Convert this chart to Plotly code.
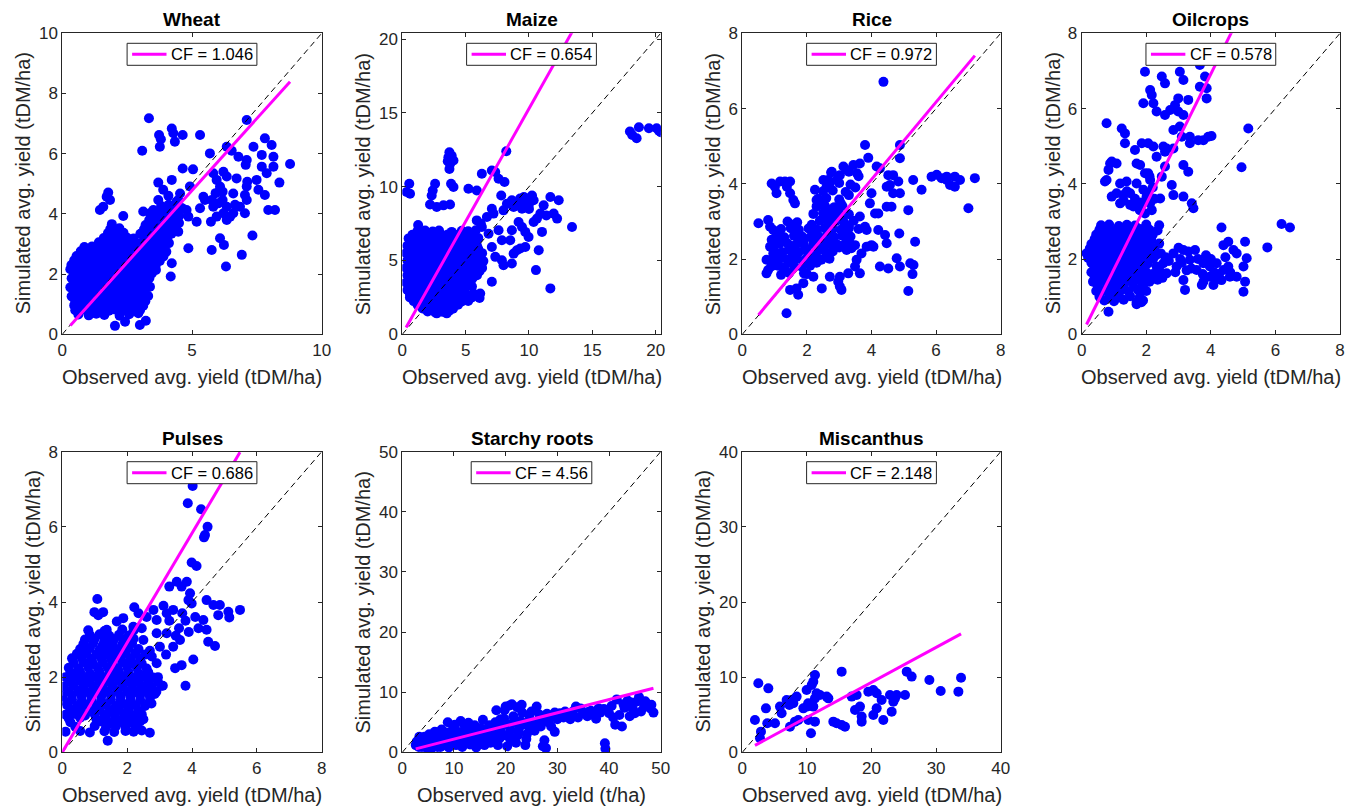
import plotly.graph_objects as go

# ---------------- data (observed, simulated) ----------------
crops = ["Wheat", "Maize", "Rice", "Oilcrops", "Pulses", "Starchy roots", "Miscanthus"]
cf_values = [1.046, 0.654, 0.972, 0.578, 0.686, 4.56, 2.148]
cf_labels = ["1.046", "0.654", "0.972", "0.578", "0.686", "4.56", "2.148"]
axis_limits = [10, 20.4, 8, 8, 8, 50, 40]
x_ticks = [[0, 5, 10], [0, 5, 10, 15, 20], [0, 2, 4, 6, 8], [0, 2, 4, 6, 8],
           [0, 2, 4, 6, 8], [0, 10, 20, 30, 40, 50], [0, 10, 20, 30, 40]]
y_ticks = [[0, 2, 4, 6, 8, 10], [0, 5, 10, 15, 20], [0, 2, 4, 6, 8], [0, 2, 4, 6, 8],
           [0, 2, 4, 6, 8], [0, 10, 20, 30, 40, 50], [0, 10, 20, 30, 40]]
x_labels = ["Observed avg. yield (tDM/ha)"] * 5 + ["Observed avg. yield (t/ha)", "Observed avg. yield (tDM/ha)"]
y_label = "Simulated avg. yield (tDM/ha)"

wheat_pts = [
    (3.34,7.18),(7.11,7.12),(3.08,6.10),(3.73,6.62),(3.80,6.48),(3.76,6.23),(4.22,6.84),(4.28,6.68),(4.34,6.40),(4.64,6.62),
    (5.31,6.62),(5.69,6.01),(6.34,6.23),(6.53,6.10),(6.79,5.90),(7.37,6.23),(7.81,6.51),(8.07,6.29),(7.69,5.96),(8.14,5.90),
    (8.78,5.66),(7.11,5.79),(7.07,5.63),(7.69,5.57),(7.88,5.35),(8.14,5.57),(8.37,5.04),(7.49,5.13),(7.13,5.07),(7.11,4.91),
    (7.04,4.63),(7.11,4.46),(7.04,4.02),(7.81,4.63),(7.94,4.13),(8.20,4.13),(7.56,4.80),(7.33,3.28),(6.92,2.64),(6.31,2.25),
    (6.23,2.97),(6.08,3.19),(5.76,2.80),(4.86,2.86),(4.22,2.36),(4.18,1.92),(5.18,3.74),(4.64,5.51),(5.04,5.48),(4.92,4.91),
    (3.70,5.04),(4.22,5.13),(3.89,4.80),(4.09,4.60),(3.70,4.46),(4.54,4.68),(4.47,4.46),(4.79,4.13),(4.86,3.91),(5.31,4.19),
    (5.50,4.46),(5.82,4.24),(6.01,4.35),(6.18,4.74),(6.08,4.91),(5.95,5.13),(5.82,5.35),(6.21,5.40),(6.34,5.24),(6.72,5.18),
    (6.08,4.80),(6.18,4.46),(6.34,4.24),(6.47,3.91),(6.66,4.30),(6.59,4.02),(5.76,4.46),(5.91,4.69),(5.95,3.91),(6.21,4.02),
    (6.34,3.80),(5.73,3.74),(5.44,4.57),(6.85,4.24),(6.59,4.68),(3.38,4.02),(3.51,4.13),(3.12,4.08),(2.35,3.93),(1.45,4.13),
    (1.58,4.24),(1.71,4.57),(1.77,4.71),(1.84,4.46),(4.28,3.74),(4.47,3.41),(3.38,1.58),(3.22,0.45),(2.99,0.31),(2.03,0.28),
    (2.42,0.42),(4.0,3.6),(4.3,3.9),(4.6,4.2),(4.1,4.3),(3.9,3.9),(4.5,3.7),(4.0,4.2),(4.4,4.4),
    (0.62,0.66),(1.02,0.63),(1.31,0.68),(1.62,0.64),(2.21,0.62),(2.58,0.67),(2.93,0.70),
    (0.46,0.96),(0.76,0.93),(1.06,0.97),(1.36,0.94),(1.66,0.96),(1.96,0.92),(2.26,0.97),(2.56,0.93),(2.86,0.96),(3.12,0.95),
    (0.36,1.26),(0.66,1.23),(0.96,1.27),(1.26,1.24),(1.56,1.26),(1.86,1.22),(2.16,1.27),(2.46,1.24),(2.76,1.26),(3.06,1.23),(3.31,1.27),
    (0.31,1.56),(0.61,1.53),(0.91,1.57),(1.21,1.54),(1.51,1.56),(1.81,1.52),(2.11,1.57),(2.41,1.54),(2.71,1.56),(3.01,1.53),(3.31,1.57),
    (0.36,1.86),(0.66,1.83),(0.96,1.87),(1.26,1.84),(1.56,1.86),(1.86,1.82),(2.16,1.87),(2.46,1.84),(2.76,1.86),(3.06,1.83),(3.36,1.87),
    (0.31,2.16),(0.61,2.13),(0.91,2.17),(1.21,2.14),(1.51,2.16),(1.81,2.12),(2.11,2.17),(2.41,2.14),(2.71,2.16),(3.01,2.13),(3.31,2.17),(3.61,2.14),
    (0.46,2.46),(0.76,2.43),(1.06,2.47),(1.36,2.44),(1.66,2.46),(1.96,2.42),(2.26,2.47),(2.56,2.44),(2.86,2.46),(3.16,2.43),(3.46,2.47),(3.76,2.44),
    (0.71,2.76),(1.01,2.73),(1.31,2.77),(1.61,2.74),(1.91,2.76),(2.21,2.72),(2.51,2.77),(2.81,2.74),(3.11,2.76),(3.41,2.73),(3.71,2.77),(4.01,2.74),
    (1.41,3.06),(1.71,3.03),(2.01,3.07),(2.31,3.04),(2.61,3.06),(2.91,3.02),(3.21,3.07),(3.51,3.04),(3.81,3.06),(4.11,3.03),
    (1.76,3.36),(2.06,3.33),(2.36,3.37),(3.01,3.34),(3.31,3.36),(3.61,3.33),(3.91,3.37),(4.21,3.34),
    (1.91,3.66),(3.21,3.63),(3.51,3.67),(3.81,3.64),(4.11,3.66),(4.41,3.63),
    (3.61,3.96),(3.91,3.93),(4.21,3.97),(4.51,3.94),(3.81,4.26),(4.11,4.23),(4.41,4.27),
    (0.5,0.8),(0.8,0.82),(1.15,0.79),(1.45,0.81),(1.8,0.78),(2.05,0.82),(2.4,0.8),(2.7,0.79),(3.0,0.81),
    (0.5,1.1),(0.8,1.12),(1.1,1.09),(1.4,1.11),(1.7,1.08),(2.0,1.12),(2.3,1.1),(2.6,1.09),(2.9,1.11),(3.2,1.1),
    (0.45,1.4),(0.75,1.42),(1.05,1.39),(1.35,1.41),(1.65,1.38),(1.95,1.42),(2.25,1.4),(2.55,1.39),(2.85,1.41),(3.15,1.4),
    (0.45,1.7),(0.75,1.72),(1.05,1.69),(1.35,1.71),(1.65,1.68),(1.95,1.72),(2.25,1.7),(2.55,1.69),(2.85,1.71),(3.2,1.7),
    (0.45,2.0),(0.75,2.02),(1.05,1.99),(1.35,2.01),(1.65,1.98),(1.95,2.02),(2.25,2.0),(2.55,1.99),(2.85,2.01),(3.15,2.0),(3.45,2.02),
    (0.35,2.3),(0.6,2.32),(0.9,2.29),(1.2,2.31),(1.5,2.28),(1.8,2.32),(2.1,2.3),(2.4,2.29),(2.7,2.31),(3.0,2.3),(3.3,2.32),(3.6,2.29),
    (0.55,2.6),(0.9,2.62),(1.2,2.59),(1.5,2.61),(1.8,2.58),(2.1,2.62),(2.4,2.6),(2.7,2.59),(3.0,2.61),(3.3,2.6),(3.6,2.62),(3.9,2.59),
    (0.85,2.9),(1.15,2.92),(1.55,2.89),(1.85,2.91),(2.15,2.88),(2.45,2.92),(2.75,2.9),(3.05,2.89),(3.35,2.91),(3.65,2.9),(3.95,2.92),
    (1.6,3.2),(1.9,3.22),(2.2,3.19),(2.5,3.21),(2.75,3.18),(3.15,3.22),(3.45,3.2),(3.75,3.19),(4.05,3.21),
    (1.85,3.5),(2.2,3.52),(3.15,3.49),(3.45,3.51),(3.75,3.48),(4.05,3.52),(4.3,3.5),
    (3.35,3.8),(3.65,3.82),(3.95,3.79),(4.25,3.81),(3.75,4.1),(4.05,4.12),(4.35,4.09),
]

maize_pts = [
    (17.97,13.74),(18.15,13.51),(18.5,13.29),(18.68,14.03),(19.47,13.96),(20.08,13.96),(20.26,13.8),(20.4,13.7),
    (8.21,12.41),(3.64,12.0),(3.77,11.55),(3.59,11.73),(4.04,11.78),(3.72,11.2),(3.72,12.34),(3.9,12.1),
    (0.55,10.2),(0.61,9.53),(0.34,9.64),(2.59,10.2),(2.4,9.75),(2.32,9.41),
    (2.19,8.8),(2.72,8.63),(3.25,8.74),(3.77,8.8),(4.04,9.98),(3.85,10.2),(5.22,9.86),(5.88,9.75),
    (6.28,10.88),(7.07,11.1),(7.34,11.0),(7.6,10.54),(8.07,10.32),(7.81,9.41),(7.07,8.51),(7.2,8.18),
    (7.99,8.4),(8.26,8.85),(8.65,9.08),(8.79,8.63),(9.45,8.96),(9.84,9.19),(10.24,9.41),(10.37,9.08),(9.45,8.51),
    (9.97,8.74),(9.05,8.74),(9.6,9.3),(10.0,8.5),(9.3,9.2),
    (11.69,9.3),(12.35,9.08),(11.16,8.74),(10.9,8.18),(11.37,8.06),(11.95,8.18),(12.22,7.84),(13.4,7.27),
    (10.37,7.61),(10.63,7.84),(11.03,6.94),(9.18,7.61),(9.45,7.27),(9.71,6.94),(9.97,6.6),(8.65,7.05),(8.52,6.37),
    (9.31,5.81),(8.79,5.47),(9.05,5.7),(9.71,5.92),(8.65,4.8),(10.77,5.7),(10.55,4.35),(11.69,3.11),
    (7.6,7.05),(7.86,6.37),(6.68,7.95),(6.28,7.27),(6.81,6.82),(7.86,5.02),(7.34,5.25),(7.99,4.68),(7.07,5.92),(7.07,3.56),
    (6.15,2.77),(5.62,2.77),(4.96,2.43),(4.3,2.55),(5.62,3.9),(5.36,3.45),(3.51,1.42),(2.72,1.42),(4.04,1.98),
    (2.0,1.55),(2.6,1.48),(3.2,1.52),(3.7,1.6),
    (1.2,2.0),(1.7,2.05),(2.2,1.97),(2.8,2.02),(3.3,1.96),(3.9,2.04),(4.4,2.0),
    (0.6,2.5),(1.1,2.45),(1.6,2.52),(2.2,2.48),(2.7,2.55),(3.3,2.46),(3.8,2.53),(4.4,2.47),(4.9,2.52),(5.5,2.5),(6.1,2.46),
    (0.4,3.0),(0.9,3.05),(1.5,2.97),(2.0,3.02),(2.6,2.98),(3.1,3.04),(3.7,2.96),(4.2,3.03),(4.8,3.0),
    (0.3,3.5),(0.8,3.46),(1.4,3.53),(1.9,3.48),(2.5,3.55),(3.0,3.47),(3.6,3.52),(4.1,3.49),(4.7,3.54),(5.2,3.5),
    (0.4,4.0),(0.9,4.04),(1.5,3.97),(2.0,4.03),(2.6,3.96),(3.1,4.05),(3.7,3.98),(4.2,4.02),(4.8,3.97),(5.3,4.04),(5.9,4.0),
    (0.3,4.5),(0.8,4.46),(1.4,4.53),(1.9,4.48),(2.5,4.54),(3.0,4.47),(3.6,4.52),(4.1,4.49),(4.7,4.55),(5.2,4.47),(5.8,4.52),(6.3,4.5),
    (0.4,5.0),(0.9,5.04),(1.5,4.97),(2.0,5.03),(2.6,4.96),(3.1,5.05),(3.7,4.98),(4.2,5.02),(4.8,4.97),(5.3,5.04),(5.9,5.0),(6.4,4.96),
    (0.3,5.5),(0.8,5.46),(1.4,5.53),(1.9,5.48),(2.5,5.54),(3.0,5.47),(3.6,5.52),(4.1,5.49),(4.7,5.55),(5.2,5.47),(5.8,5.52),(6.3,5.5),
    (0.4,6.0),(0.9,6.04),(1.5,5.97),(2.0,6.03),(2.6,5.96),(3.1,6.05),(3.7,5.98),(4.2,6.02),(4.8,5.97),(5.3,6.04),(5.9,6.0),
    (0.5,6.5),(1.0,6.46),(1.6,6.53),(2.1,6.48),(2.7,6.54),(3.2,6.47),(3.8,6.52),(4.3,6.49),(4.9,6.55),(5.5,6.47),(6.0,6.52),
    (1.2,7.0),(1.8,7.04),(2.4,6.97),(2.9,7.03),(4.7,7.02),(5.2,6.98),(5.8,7.05),(1.25,7.4),(5.88,7.72),(6.2,7.5),(3.9,6.94),
    (1.6,1.75),(2.3,1.77),(2.9,1.73),(3.5,1.76),(4.0,1.74),
    (0.9,2.25),(1.4,2.27),(1.9,2.23),(2.5,2.26),(3.0,2.24),(3.6,2.27),(4.1,2.25),(4.7,2.23),(5.2,2.26),
    (0.6,2.75),(1.2,2.77),(1.7,2.73),(2.3,2.76),(2.8,2.74),(3.4,2.77),(3.9,2.75),(4.5,2.73),(5.0,2.76),
    (0.6,3.25),(1.1,3.27),(1.7,3.23),(2.2,3.26),(2.8,3.24),(3.3,3.27),(3.9,3.25),(4.4,3.23),(5.0,3.26),(5.5,3.24),
    (0.6,3.75),(1.1,3.77),(1.6,3.73),(2.2,3.76),(2.7,3.74),(3.3,3.77),(3.8,3.75),(4.4,3.73),(4.9,3.76),(5.5,3.74),
    (0.6,4.25),(1.1,4.27),(1.7,4.23),(2.2,4.26),(2.8,4.24),(3.3,4.27),(3.9,4.25),(4.4,4.23),(5.0,4.26),(5.5,4.24),(6.1,4.27),
    (0.6,4.75),(1.1,4.77),(1.6,4.73),(2.2,4.76),(2.7,4.74),(3.3,4.77),(3.8,4.75),(4.4,4.73),(4.9,4.76),(5.5,4.74),(6.0,4.77),
    (0.6,5.25),(1.1,5.27),(1.7,5.23),(2.2,5.26),(2.8,5.24),(3.3,5.27),(3.9,5.25),(4.4,5.23),(5.0,5.26),(5.5,5.24),(6.1,5.27),
    (0.6,5.75),(1.1,5.77),(1.6,5.73),(2.2,5.76),(2.7,5.74),(3.3,5.77),(3.8,5.75),(4.4,5.73),(4.9,5.76),(5.5,5.74),(6.0,5.77),
    (0.7,6.25),(1.2,6.27),(1.8,6.23),(2.3,6.26),(2.9,6.24),(3.4,6.27),(4.0,6.25),(4.5,6.23),(5.1,6.26),(5.6,6.24),
    (0.8,6.75),(1.4,6.77),(2.0,6.73),(2.6,6.76),(3.1,6.74),(3.6,6.77),(4.2,6.75),(4.8,6.73),(5.4,6.76),
]

rice_pts = [
    (4.37,6.71),(3.80,5.03),(4.88,5.03),(3.90,4.69),(4.88,4.68),(4.16,4.46),(4.26,4.41),(3.64,4.54),(3.44,4.5),(3.23,4.37),
    (3.13,4.46),(2.77,4.32),(2.66,4.1),(2.92,4.1),(3.02,4.23),(2.51,4.1),(2.61,3.92),(2.25,3.84),(2.30,3.57),(2.40,3.48),
    (1.17,4.06),(1.32,4.06),(1.48,4.06),(1.38,3.92),(1.48,3.75),(1.58,3.57),(1.63,3.48),(0.91,4.01),(1.01,3.92),(1.06,3.75),
    (0.5,2.95),(0.8,3.04),(0.86,2.86),(0.96,2.77),(0.91,2.51),(0.86,2.33),(0.96,2.15),(0.75,1.98),(0.8,1.71),
    (5.29,4.1),(5.55,3.84),(5.86,4.19),(6.02,4.24),(6.17,4.15),(6.33,4.1),(6.43,3.97),(6.58,3.92),(6.74,4.1),(6.58,4.19),
    (6.33,4.19),(7.2,4.15),(7.0,3.35),(5.14,3.3),(5.35,2.46),(5.2,1.89),(5.3,1.84),(5.27,1.6),(5.14,1.15),(4.86,2.68),
    (4.47,2.42),(4.42,2.64),(4.21,2.77),(4.21,3.21),(3.95,3.48),(4.0,3.75),(4.11,3.21),(4.47,3.92),(4.67,3.75),(4.88,3.75),
    (4.57,3.97),(4.83,4.06),(4.52,4.23),(4.67,4.23),(4.47,3.39),(4.62,3.39),(4.78,2.02),(4.88,1.80),(4.26,1.8),(4.52,1.75),
    (4.06,2.33),(3.69,2.15),(3.54,1.98),(3.49,1.8),(3.64,1.62),(3.85,2.33),(4.0,2.37),(3.23,2.24),(3.38,2.29),(3.49,2.37),
    (3.28,1.62),(3.02,1.53),(2.97,1.4),(3.02,1.27),(3.07,1.18),(2.71,1.53),(2.46,1.22),(2.2,1.53),(1.91,1.62),(1.89,1.36),
    (1.68,1.22),(1.73,1.05),(1.48,1.18),(1.37,0.56),(3.64,3.13),(3.8,2.86),(3.85,2.77),(3.3,3.7),(3.5,3.9),(3.6,4.2),
    (0.75,1.62),(1.2,1.58),(1.45,1.63),(2.0,1.6),
    (0.9,1.8),(1.1,1.82),(1.3,1.78),(1.6,1.81),(1.85,1.79),(2.1,1.82),
    (0.95,2.0),(1.2,2.02),(1.4,1.98),(1.7,2.01),(1.95,1.99),(2.2,2.03),(2.45,1.98),(2.7,2.01),
    (1.0,2.2),(1.25,2.18),(1.5,2.22),(1.75,2.19),(2.0,2.21),(2.3,2.18),(2.55,2.22),(2.8,2.2),
    (1.15,2.4),(1.4,2.42),(1.65,2.38),(1.9,2.41),(2.2,2.39),(2.45,2.42),(2.7,2.4),(2.95,2.38),(3.2,2.42),
    (1.05,2.6),(1.3,2.58),(1.6,2.62),(1.85,2.6),(2.1,2.58),(2.35,2.62),(2.6,2.6),(2.85,2.58),(3.1,2.62),(3.35,2.6),
    (1.2,2.8),(1.5,2.82),(1.75,2.78),(2.05,2.81),(2.3,2.79),(2.55,2.82),(2.8,2.8),(3.05,2.78),(3.3,2.82),(3.6,2.8),
    (1.4,3.0),(1.7,2.98),(2.4,3.02),(2.65,2.99),(2.9,3.01),(3.15,2.98),(3.45,3.02),
    (2.2,3.2),(2.5,3.22),(2.75,3.18),(3.0,3.21),(3.3,3.19),
    (2.3,3.4),(2.55,3.42),(2.85,3.38),(3.1,3.41),
    (2.35,3.6),(2.6,3.62),(3.0,3.58),(2.5,3.8),(2.8,3.82),(3.2,3.78),
    (2.7,4.0),(3.0,4.02),(3.35,3.98),(2.75,4.3),(3.3,4.32),(3.55,4.28),
    (1.0,1.9),(1.45,1.92),(2.3,1.9),
    (1.1,2.1),(1.6,2.08),(2.1,2.09),(2.65,2.1),
    (0.95,2.3),(1.45,2.28),(1.95,2.29),(2.45,2.3),(3.0,2.31),
    (1.25,2.52),(1.75,2.51),(2.3,2.52),(2.8,2.48),(3.3,2.5),
    (1.15,2.7),(1.7,2.68),(2.2,2.69),(2.7,2.7),(3.2,2.71),
    (1.6,2.92),(2.15,2.91),(2.75,2.92),(3.3,2.88),
    (2.6,3.12),(3.1,3.11),(2.7,3.32),(3.05,3.48),
]

oil_pts = [
    (5.16,5.47),(4.95,4.44),(6.19,2.93),(6.45,2.84),(5.75,2.31),(4.33,2.84),(5.06,2.46),(5.11,2.02),(5.01,1.8),(5.06,1.4),
    (5.01,1.13),(4.8,1.53),(4.39,2.37),(4.54,2.46),(4.7,2.24),(4.8,2.15),(4.08,1.31),(4.18,1.49),(3.72,1.31),(3.77,1.4),
    (3.2,1.18),(3.15,1.44),(2.22,2.02),(2.53,1.89),(2.84,2.15),(2.94,1.8),(3.15,2.24),(3.35,1.98),(3.51,2.24),(3.77,1.89),
    (3.97,1.8),(4.18,1.89),(4.39,1.71),(4.54,1.8),(4.59,1.53),(4.33,1.44),(3.97,1.53),(3.56,1.71),(2.63,1.62),(2.43,1.67),
    (2.32,1.8),(2.7,1.95),(3.05,2.0),(3.25,1.7),(3.85,2.1),(4.1,1.65),(2.2,1.6),(2.45,2.15),
    (2.3,2.1),(2.6,2.05),(2.9,1.65),(3.1,1.9),(3.4,1.75),(3.6,2.0),(3.75,1.6),(4.0,2.0),(4.25,1.6),(4.45,2.05),(4.6,1.65),
    (2.5,1.5),(3.0,2.3),(3.3,2.2),(2.1,1.4),(2.35,1.45),(1.85,0.85),(1.7,0.8),(0.83,0.6),
    (1.96,6.98),(2.48,6.85),(2.58,6.67),(3.04,6.98),(3.15,6.76),(3.66,7.16),(3.82,6.85),(3.87,6.54),(3.66,6.58),(3.87,6.27),
    (2.12,6.49),(2.17,6.36),(1.91,6.14),(2.22,6.14),(2.32,5.92),(2.58,5.83),(2.74,5.96),(2.89,6.09),(2.99,5.92),(3.15,5.83),
    (3.3,6.23),(2.99,6.27),(2.84,5.43),(3.04,5.52),(3.1,5.25),(3.35,5.25),(3.35,5.08),(3.61,5.16),(3.77,5.16),(3.92,5.25),
    (4.02,5.27),(1.24,5.47),(1.34,5.34),(1.34,5.08),(1.65,4.9),(1.86,5.08),(2.06,5.08),(2.22,4.99),(2.32,4.72),(2.53,4.99),
    (2.63,4.94),(2.58,4.85),(2.84,4.94),(0.77,5.61),(0.88,4.54),(0.93,4.59),(1.08,4.54),(0.83,4.37),(0.77,4.1),(0.72,4.06),
    (1.7,4.54),(1.81,4.5),(1.96,4.28),(2.06,4.28),(2.12,4.1),(2.58,4.46),(2.48,4.19),(2.79,3.97),(2.84,3.7),(3.15,4.5),
    (3.3,4.32),(3.15,3.66),(1.19,4.01),(1.39,4.06),(1.7,4.01),(0.93,3.66),(1.08,3.75),(1.29,3.7),(1.5,3.75),(1.19,3.48),
    (1.5,3.44),(1.91,3.84),(2.01,3.66),(2.12,3.48),(2.17,3.3),(1.96,3.21),(2.06,3.75),(2.43,3.61),(3.41,3.48),(3.46,3.35),
    (1.85,3.5),(2.2,3.9),(2.1,4.2),(1.8,3.3),(2.25,3.6),(1.3,3.55),(1.4,3.8),(1.65,3.6),(1.6,3.4),
    (0.7,0.9),(1.0,0.88),(1.3,0.92),(1.7,0.86),(1.9,0.9),
    (0.45,1.15),(0.7,1.17),(0.95,1.13),(1.2,1.16),(1.45,1.14),(1.75,1.17),(2.0,1.15),
    (0.35,1.4),(0.6,1.42),(0.85,1.38),(1.1,1.41),(1.35,1.39),(1.6,1.42),(1.85,1.4),
    (0.3,1.65),(0.55,1.63),(0.8,1.67),(1.05,1.64),(1.3,1.66),(1.55,1.63),(1.8,1.67),(2.0,1.65),
    (0.3,1.9),(0.55,1.92),(0.8,1.88),(1.05,1.91),(1.3,1.89),(1.55,1.92),(1.8,1.9),(2.05,1.88),
    (0.15,2.15),(0.4,2.17),(0.65,2.13),(0.9,2.16),(1.15,2.14),(1.4,2.17),(1.65,2.15),(1.9,2.13),(2.15,2.16),
    (0.3,2.4),(0.55,2.42),(0.8,2.38),(1.05,2.41),(1.3,2.39),(1.55,2.42),(1.8,2.4),(2.05,2.38),(2.4,2.41),
    (0.45,2.65),(0.7,2.63),(0.95,2.67),(1.2,2.64),(1.45,2.66),(1.7,2.63),(1.95,2.67),(2.2,2.65),
    (0.6,2.9),(0.85,2.92),(1.15,2.88),(1.4,2.91),(1.65,2.89),(2.0,2.92),(2.4,2.9),
    (0.55,1.0),(0.85,1.02),(1.15,0.98),(1.5,1.01),(1.8,0.99),
    (0.5,1.28),(0.8,1.3),(1.05,1.26),(1.3,1.29),(1.6,1.27),(1.9,1.3),
    (0.4,1.53),(0.7,1.55),(0.95,1.51),(1.2,1.54),(1.45,1.52),(1.7,1.55),(1.95,1.53),
    (0.4,1.78),(0.65,1.8),(0.9,1.76),(1.2,1.79),(1.45,1.77),(1.7,1.8),(1.95,1.78),
    (0.2,2.03),(0.45,2.05),(0.7,2.01),(0.95,2.04),(1.2,2.02),(1.45,2.05),(1.7,2.03),(1.95,2.01),(2.2,2.04),
    (0.25,2.28),(0.5,2.3),(0.75,2.26),(1.0,2.29),(1.25,2.27),(1.5,2.3),(1.75,2.28),(2.0,2.26),(2.25,2.29),
    (0.4,2.53),(0.65,2.55),(0.9,2.51),(1.15,2.54),(1.4,2.52),(1.65,2.55),(1.9,2.53),(2.15,2.51),
    (0.55,2.78),(0.8,2.8),(1.05,2.76),(1.3,2.79),(1.55,2.77),(1.8,2.8),(2.1,2.78),(2.35,2.76),
]

pulses_pts = [
    (4.02,7.09),(3.87,6.63),(4.28,6.47),(4.48,6.0),(4.4,5.78),(4.37,5.72),(3.99,5.05),(4.14,4.96),(3.3,4.41),(3.53,4.54),
    (3.68,4.41),(3.84,4.54),(1.08,4.08),(0.99,3.73),(1.11,3.65),(1.26,3.73),(1.37,3.26),(2.22,3.86),(2.35,3.7),(3.94,4.23),
    (3.99,3.96),(3.89,4.05),(4.45,4.05),(4.66,3.92),(4.86,3.92),(5.12,3.74),(5.15,3.59),(5.48,3.79),(4.81,3.65),(4.35,3.52),
    (4.45,3.26),(4.5,2.94),(4.71,2.83),(4.04,2.47),(3.68,2.32),(3.48,2.24),(3.8,1.77),(3.1,1.77),(2.7,0.52),(1.4,0.31),
    (2.81,3.79),(2.91,3.52),(3.12,3.9),(3.22,3.7),(3.42,3.79),(3.22,3.17),(2.91,3.17),(3.01,2.81),(2.76,2.55),(2.91,2.37),
    (3.42,2.81),(3.63,2.99),(3.6,3.3),(3.8,3.5),(3.7,3.7),(4.1,3.6),(4.2,3.3),(3.9,3.2),(3.3,3.5),(3.5,3.1),
    (1.68,3.48),(1.88,3.57),(2.19,3.34),(2.5,2.99),(1.55,2.85),(2.7,2.7),(2.45,3.3),(2.6,3.6),(2.95,2.0),(3.2,2.6),
    (2.75,1.3),(2.85,1.55),(2.65,1.75),
    (0.1,0.55),(0.55,0.57),(0.85,0.53),(1.3,0.56),(1.6,0.54),(1.95,0.57),(2.2,0.55),(2.45,0.58),
    (0.25,0.8),(1.2,0.82),(1.5,0.78),(1.8,0.81),(2.1,0.79),(2.4,0.82),
    (0.1,1.0),(0.4,1.02),(0.7,0.98),(1.0,1.01),(1.3,0.99),(1.6,1.02),(1.9,1.0),(2.2,0.98),(2.45,1.01),
    (0.15,1.25),(0.45,1.23),(0.75,1.27),(1.05,1.24),(1.35,1.26),(1.65,1.23),(1.95,1.27),(2.25,1.25),(2.55,1.23),
    (0.0,1.5),(0.3,1.52),(0.6,1.48),(0.9,1.51),(1.2,1.49),(1.5,1.52),(1.8,1.5),(2.1,1.48),(2.4,1.51),(2.7,1.49),
    (0.05,1.75),(0.35,1.77),(0.65,1.73),(0.95,1.76),(1.25,1.74),(1.55,1.77),(1.85,1.75),(2.15,1.73),(2.45,1.76),(2.75,1.74),(3.05,1.77),
    (0.1,2.0),(0.4,2.02),(0.7,1.98),(1.0,2.01),(1.3,1.99),(1.6,2.02),(1.9,2.0),(2.2,1.98),(2.5,2.01),(2.8,1.99),
    (0.2,2.25),(0.5,2.23),(0.8,2.27),(1.1,2.24),(1.4,2.26),(1.7,2.23),(2.0,2.27),(2.3,2.25),(2.6,2.23),
    (0.3,2.5),(0.6,2.52),(0.9,2.48),(1.2,2.51),(1.5,2.49),(1.8,2.52),(2.1,2.5),(2.4,2.48),
    (0.55,2.75),(0.85,2.77),(1.15,2.73),(1.45,2.76),(1.75,2.74),(2.05,2.77),(2.35,2.75),
    (0.7,3.0),(1.0,3.02),(1.3,2.98),(1.6,3.01),(1.9,2.99),(2.2,3.02),(0.8,3.25),(1.3,3.23),(1.85,3.27),(2.2,3.24),
    (0.4,0.68),(1.0,0.7),(1.35,0.66),(1.65,0.69),(1.95,0.67),(2.25,0.7),
    (0.2,0.9),(0.55,0.92),(1.05,0.88),(1.35,0.91),(1.65,0.89),(1.95,0.92),(2.25,0.9),(2.5,0.88),
    (0.25,1.12),(0.55,1.14),(0.85,1.1),(1.15,1.13),(1.45,1.11),(1.75,1.14),(2.05,1.12),(2.35,1.1),
    (0.05,1.38),(0.3,1.4),(0.6,1.36),(0.9,1.39),(1.2,1.37),(1.5,1.4),(1.8,1.38),(2.1,1.36),(2.4,1.39),(2.7,1.37),
    (0.2,1.62),(0.5,1.64),(0.8,1.6),(1.1,1.63),(1.4,1.61),(1.7,1.64),(2.0,1.62),(2.3,1.6),(2.6,1.63),(2.9,1.61),
    (0.25,1.88),(0.55,1.9),(0.85,1.86),(1.15,1.89),(1.45,1.87),(1.75,1.9),(2.05,1.88),(2.35,1.86),(2.65,1.89),(2.95,1.87),
    (0.25,2.12),(0.55,2.14),(0.85,2.1),(1.15,2.13),(1.45,2.11),(1.75,2.14),(2.05,2.12),(2.35,2.1),(2.65,2.13),
    (0.35,2.38),(0.65,2.4),(0.95,2.36),(1.25,2.39),(1.55,2.37),(1.85,2.4),(2.15,2.38),(2.45,2.36),
    (0.45,2.62),(0.75,2.64),(1.05,2.6),(1.35,2.63),(1.65,2.61),(1.95,2.64),(2.25,2.62),(2.55,2.6),
    (0.65,2.88),(0.95,2.9),(1.25,2.86),(1.55,2.89),(1.85,2.87),(2.15,2.9),
    (0.85,3.12),(1.15,3.14),(1.45,3.1),(1.75,3.13),(2.05,3.11),
]

starchy_pts = [
    (2.6,1.2),(2.8,1.8),(3.2,0.9),(3.5,2.2),(4.0,1.4),(4.3,2.6),(4.6,0.8),(5.0,1.9),(5.2,3.0),(5.5,0.5),
    (5.8,1.3),(6.0,2.4),(6.3,3.4),(6.8,0.9),(7.0,1.8),(7.2,2.9),(7.6,3.8),(7.9,1.2),(8.2,2.3),(8.5,3.3),
    (8.8,5.0),(9.0,0.8),(9.3,1.8),(9.5,2.8),(9.8,3.9),(10.2,4.6),(10.4,1.2),(10.7,2.3),(11.0,3.3),(11.3,5.2),
    (11.6,0.9),(11.9,1.9),(12.2,2.9),(12.5,4.0),(12.8,4.9),(13.1,1.3),(13.4,2.4),(13.7,3.5),(14.0,4.5),(14.3,0.8),
    (14.6,1.8),(14.9,2.9),(15.2,4.0),(15.6,5.4),(15.9,1.2),(16.2,2.3),(16.5,3.4),(16.8,4.5),(17.1,1.6),(17.4,2.8),
    (17.7,3.9),(18.0,5.0),(18.2,7.0),(18.5,1.2),(18.8,2.3),(19.1,3.4),(19.4,4.5),(19.7,5.6),(20.0,7.6),(20.3,1.0),
    (20.6,2.6),(20.9,3.7),(21.2,4.8),(21.5,6.0),(21.2,8.0),(22.0,1.6),(22.3,2.8),(22.6,4.0),(22.9,5.2),(23.2,6.6),
    (23.1,7.9),(23.8,1.2),(24.1,3.0),(24.4,4.3),(24.7,5.5),(25.0,6.8),(25.6,3.6),(26.0,7.6),(26.2,5.2),(26.8,4.3),
    (27.2,1.0),(27.5,2.0),(27.8,0.7),(28.0,6.4),(28.3,5.0),(29.0,6.0),(29.5,3.4),(30.0,5.5),(30.5,6.5),(31.2,5.8),
    (32.0,6.2),(33.0,6.8),(33.6,7.6),(34.0,5.8),(35.0,6.5),(35.8,6.0),(36.5,6.9),(37.5,5.6),(38.3,6.6),(39.0,7.2),
    (39.2,1.5),(39.3,0.6),(40.0,6.5),(40.5,7.7),(41.2,4.6),(41.5,8.8),(42.0,6.2),(42.5,4.3),(43.0,7.4),(43.6,8.6),
    (44.0,6.0),(44.6,7.2),(45.3,8.4),(45.8,9.2),(46.2,6.8),(46.8,7.6),(47.5,8.0),(48.2,7.9),(48.6,6.6),
    (3.0,1.6),(3.8,0.9),(4.5,1.9),(5.3,1.2),(6.5,1.6),(7.4,0.9),(8.0,3.0),(8.9,2.2),(10.0,1.6),(10.5,3.5),
    (11.5,2.6),(12.0,4.5),(12.8,1.8),(13.8,2.9),(14.5,4.0),(15.0,1.4),(15.5,3.3),(16.5,1.6),(17.0,4.0),(17.8,2.0),
    (18.5,3.8),(19.0,5.5),(19.5,2.8),(20.5,4.5),(21.0,2.0),(21.8,5.2),(22.5,3.3),(23.5,4.8),(24.0,2.2),(24.5,6.2),
    (25.2,4.6),(26.5,6.3),(27.0,5.5),(28.8,4.3),(29.5,6.6),(31.5,6.8),(32.5,5.5),(34.5,7.3),(36.0,6.7),(37.0,6.2),
    (38.0,7.3),(40.8,5.8),(42.8,8.0),(44.3,8.3),(45.0,6.5),(47.0,8.5),(48.0,7.3),(3.3,2.6),(22.2,7.5),(19.8,7.0),(20.8,7.8),
]

miscanthus_pts = [
    (1.96,4.3),(2.48,9.18),(2.89,2.75),(2.74,1.86),(3.66,5.85),(4.03,8.51),(3.87,3.86),(5.06,3.86),(6.09,5.19),(5.83,6.08),
    (6.86,6.96),(7.28,6.3),(7.64,6.96),(7.9,6.52),(8.41,7.41),(7.38,3.41),(8.15,4.08),(8.67,4.3),(9.45,5.85),(9.96,6.08),
    (10.2,6.52),(9.96,8.29),(10.74,8.96),(10.99,9.4),(11.25,10.29),(10.22,4.3),(10.63,2.53),(11.25,4.08),(11.51,7.85),(12.03,7.63),
    (13.06,7.41),(13.32,7.18),(11.25,7.18),(10.99,6.08),(14.09,4.08),(14.6,3.86),(15.38,3.64),(15.9,3.41),(15.38,10.73),(16.93,7.41),
    (17.7,7.63),(17.45,5.63),(18.22,6.08),(18.48,4.75),(18.48,4.08),(19.51,8.07),(20.28,8.29),(20.8,7.85),(20.28,4.97),(20.8,5.85),
    (21.57,6.96),(21.83,4.3),(23.12,5.41),(22.86,7.63),(23.64,7.18),(23.9,7.63),(23.38,6.74),(25.19,7.63),(25.45,10.73),(26.22,10.07),
    (28.96,9.62),(30.71,8.16),(33.45,8.07),(33.86,9.93),
]

all_pts = [wheat_pts, maize_pts, rice_pts, oil_pts, pulses_pts, starchy_pts, miscanthus_pts]

# ---------------- layout geometry (pixels) ----------------
W, H = 1348, 807
FONT = "Liberation Sans"
AXC = "#262626"
LEG_FS = 16.5
# left, right, top, bottom of each plot box
boxes = [(62.3, 321.7, 33.3, 334.3), (402.3, 660.7, 33.3, 334.3), (742.3, 1000.7, 33.3, 334.3),
         (1081.7, 1340.0, 33.3, 334.3), (62.3, 321.7, 451.7, 752.3), (402.3, 660.7, 451.7, 752.3),
         (742.3, 1000.7, 451.7, 752.3)]
ylabel_x = [22.5, 362.5, 712.5, 1052.5, 32.5, 362.5, 702.5]
# Arial/Liberation advance widths (per 1000 em) used to size the legend boxes
glyph_w = {"C": 722, "F": 611, " ": 278, "=": 584, ".": 278}


def text_width(s, size):
    return sum(glyph_w.get(c, 556) for c in s) * size / 1000.0


def fx(p):
    return p / W


def fy(p):
    return 1 - p / H


fig = go.Figure()
annotations = []
shapes = []
layout = {}
for i, name in enumerate(crops):
    sfx = "" if i == 0 else str(i + 1)
    xa, ya = "x" + sfx, "y" + sfx
    obs = [p[0] for p in all_pts[i]]
    sim = [p[1] for p in all_pts[i]]
    lim = axis_limits[i]
    cf = cf_values[i]
    fig.add_trace(go.Scatter(x=obs, y=sim, mode="markers", xaxis=xa, yaxis=ya,
                             marker=dict(color="#0000FF", size=10, line=dict(width=0)),
                             showlegend=False, hoverinfo="skip"))
    fig.add_trace(go.Scatter(x=[0, lim], y=[0, lim], mode="lines", xaxis=xa, yaxis=ya,
                             line=dict(color="black", width=1, dash="6px,4px"),
                             showlegend=False, hoverinfo="skip"))
    fit_x = [min(obs), max(obs)]
    fig.add_trace(go.Scatter(x=fit_x, y=[v / cf for v in fit_x], mode="lines", xaxis=xa, yaxis=ya,
                             line=dict(color="#FF00FF", width=3), name="CF = " + cf_labels[i],
                             showlegend=False, hoverinfo="skip"))
    l, r, t, b = boxes[i]
    common = dict(range=[0, lim], showgrid=False, zeroline=False, showline=True, linecolor=AXC,
                  linewidth=1, mirror="ticks", ticks="inside", ticklen=4, tickcolor=AXC, tickwidth=1,
                  tickfont=dict(family=FONT, size=17, color=AXC), fixedrange=True, automargin=False)
    layout["xaxis" + sfx] = dict(common, domain=[fx(l), fx(r)], anchor=ya, tickvals=x_ticks[i],
                                 ticktext=[str(v) for v in x_ticks[i]])
    layout["yaxis" + sfx] = dict(common, domain=[fy(b), fy(t)], anchor=xa, tickvals=y_ticks[i],
                                 ticktext=[str(v) for v in y_ticks[i]])

    # legend box (MATLAB style): line sample + label, centred near the top of the axes
    leg_text = "CF = " + cf_labels[i]
    tw = text_width(leg_text, LEG_FS)
    bw = 5 + 34.4 + 3.3 + tw + 5
    cx = (l + r) / 2
    bl, br = cx - bw / 2, cx + bw / 2
    bt, bb = t + 10, t + 32
    ym = (bt + bb) / 2
    shapes.append(dict(type="rect", xref="paper", yref="paper", x0=fx(bl), x1=fx(br), y0=fy(bb), y1=fy(bt),
                       fillcolor="white", line=dict(color=AXC, width=1), layer="above"))
    shapes.append(dict(type="line", xref="paper", yref="paper", x0=fx(bl + 5), x1=fx(bl + 39.4),
                       y0=fy(ym), y1=fy(ym), line=dict(color="#FF00FF", width=3), layer="above"))
    annotations.append(dict(text=leg_text, x=fx(bl + 41.7), y=fy(ym), xref="paper", yref="paper",
                            showarrow=False, xanchor="left", yanchor="middle",
                            font=dict(family=FONT, size=LEG_FS, color="black")))

    annotations.append(dict(text="<b>" + name + "</b>", x=fx(cx), y=fy(t - 13.5), xref="paper",
                            yref="paper", showarrow=False, xanchor="center", yanchor="middle",
                            font=dict(family=FONT, size=19, color="black")))
    annotations.append(dict(text=x_labels[i], x=fx(cx), y=fy(b + 42.5), xref="paper",
                            yref="paper", showarrow=False, xanchor="center", yanchor="middle",
                            font=dict(family=FONT, size=20, color=AXC)))
    annotations.append(dict(text=y_label, x=fx(ylabel_x[i]), y=fy((t + b) / 2), xref="paper",
                            yref="paper", showarrow=False, xanchor="center", yanchor="middle",
                            textangle=-90, font=dict(family=FONT, size=20, color=AXC)))

fig.update_layout(width=W, height=H, margin=dict(l=0, r=0, t=0, b=0, pad=0), plot_bgcolor="white",
                  paper_bgcolor="white", annotations=annotations, shapes=shapes, showlegend=False,
                  hovermode=False, **layout)

fig.write_html("out.html", config={"displayModeBar": False},
               post_script="document.body.style.margin='0';")
